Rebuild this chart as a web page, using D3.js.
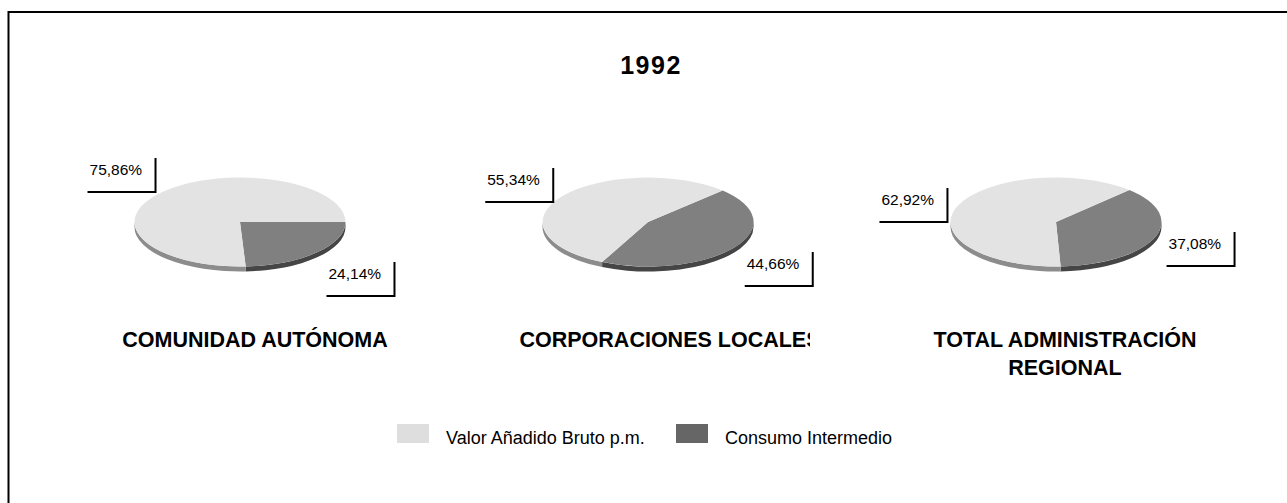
<!DOCTYPE html>
<html>
<head>
<meta charset="utf-8">
<script src="https://cdn.jsdelivr.net/npm/d3@7"></script>
<style>
  body { margin: 0; background: #fff; }
  text { font-family: "Liberation Sans", Arial, sans-serif; fill: #000; }
</style>
</head>
<body>
<div id="main"></div>
<script>
//data
const year = '1992';
const categories = [['COMUNIDAD AUTÓNOMA'], ['CORPORACIONES LOCALES'], ['TOTAL ADMINISTRACIÓN', 'REGIONAL']];
const seriesNames = ['Valor Añadido Bruto p.m.', 'Consumo Intermedio'];
const vab = [75.86, 55.34, 62.92];
const consumo = [24.14, 44.66, 37.08];
// where the dark slice starts, degrees clockwise from 3 o'clock
const rotation = [0, -45, -46];

//constants
const W = 1287, H = 503;
const rx = 105.5, ry = 44.5, depth = 5;
const topColors = ['#e3e3e3', '#808080'];
const sideColors = ['#8c8c8c', '#454545'];
const swatchColors = ['#dedede', '#666666'];
// category titles sit in fixed-width boxes that cut the text on the right
const titleShift = [15, 22, 9];
const titleClip = [148, 162, 220];

const x = d3.scalePoint()
  .domain(d3.range(categories.length))
  .range([240, 1056]);
const cy = 222;

const fmt = v => d3.format('.2f')(v).replace('.', ',') + '%';

const svg = d3.select('#main')
  .append('svg')
  .attr('width', W)
  .attr('height', H);

// frame (runs off the right and bottom edge)
svg.append('rect')
  .attr('x', 8.5).attr('y', 12)
  .attr('width', 1400).attr('height', 600)
  .attr('fill', 'none')
  .attr('stroke', '#000')
  .attr('stroke-width', 2);

svg.append('text')
  .attr('x', 651).attr('y', 74)
  .attr('text-anchor', 'middle')
  .style('font-size', '25px')
  .style('font-weight', 'bold')
  .style('letter-spacing', '1.5px')
  .text(year);

const pie = d3.pie().sort(null).value(d => d.value);
const arc = d3.arc().innerRadius(0).outerRadius(1);

const ex = (cx, t) => cx + rx * Math.cos(t);
const ey = t => cy + ry * Math.sin(t);

function wallPath (cx, a, b) {
  return `M${ex(cx, a)},${ey(a)}`
    + `A${rx},${ry} 0 0 1 ${ex(cx, b)},${ey(b)}`
    + `L${ex(cx, b)},${ey(b) + depth}`
    + `A${rx},${ry} 0 0 0 ${ex(cx, a)},${ey(a) + depth}Z`;
}

const defs = svg.append('defs');

categories.forEach((cat, i) => {
  const cx = x(i);
  const data = [
    {key: 1, value: consumo[i]},
    {key: 0, value: vab[i]}
  ];
  const start = rotation[i] * Math.PI / 180 + Math.PI / 2;
  const slices = pie.startAngle(start).endAngle(start + 2 * Math.PI)(data);

  const g = svg.append('g');

  // front walls: screen angle t in [0, PI] (and its 2PI copies)
  slices.forEach(s => {
    const a0 = s.startAngle - Math.PI / 2;
    const a1 = s.endAngle - Math.PI / 2;
    for (let k = -1; k <= 1; k++) {
      const lo = Math.max(a0, k * 2 * Math.PI);
      const hi = Math.min(a1, k * 2 * Math.PI + Math.PI);
      if (hi > lo) {
        g.append('path')
          .attr('d', wallPath(cx, lo, hi))
          .attr('fill', sideColors[s.data.key]);
      }
    }
  });

  // top face
  g.append('g')
    .attr('transform', `translate(${cx},${cy}) scale(${rx},${ry})`)
    .selectAll('path')
    .data(slices)
    .join('path')
    .attr('d', arc)
    .attr('fill', d => topColors[d.data.key]);

  // value labels with shadow bracket
  slices.forEach(s => {
    const mid = (s.startAngle + s.endAngle) / 2 - Math.PI / 2;
    const c = Math.cos(mid), sn = Math.sin(mid);
    const bx = cx + 115 * c + 36 * Math.sign(c) - 34 + 1;
    const by = cy + 90 * sn - 10 * Math.sign(sn) + 4 - 17 + 1;
    const lab = svg.append('g').attr('transform', `translate(${bx},${by})`);
    lab.append('path')
      .attr('d', 'M68,0V34H0')
      .attr('fill', 'none')
      .attr('stroke', '#000')
      .attr('stroke-width', 2);
    lab.append('text')
      .attr('x', 2).attr('y', 17)
      .style('font-size', '15.5px')
      .text(fmt(s.value));
  });

  // category label
  defs.append('clipPath')
    .attr('id', `clip${i}`)
    .append('rect')
    .attr('x', cx - 200).attr('y', 300)
    .attr('width', 200 + titleClip[i]).attr('height', 100);

  const t = svg.append('text')
    .attr('clip-path', `url(#clip${i})`)
    .attr('y', 347)
    .attr('text-anchor', 'middle')
    .style('font-size', '21.5px')
    .style('font-weight', 'bold');
  t.selectAll('tspan')
    .data(cat)
    .join('tspan')
    .attr('x', cx + titleShift[i])
    .attr('dy', (d, j) => j ? 28 : 0)
    .text(d => d);
});

// legend
const legendX = [397, 676];
const legend = svg.selectAll('.legend')
  .data(seriesNames)
  .join('g')
  .attr('class', 'legend')
  .attr('transform', (d, i) => `translate(${legendX[i]},424)`);

legend.append('rect')
  .attr('width', 32).attr('height', 19)
  .attr('fill', (d, i) => swatchColors[i]);

legend.append('text')
  .attr('x', 49).attr('y', 20)
  .style('font-size', '18px')
  .text(d => d);
</script>
</body>
</html>
